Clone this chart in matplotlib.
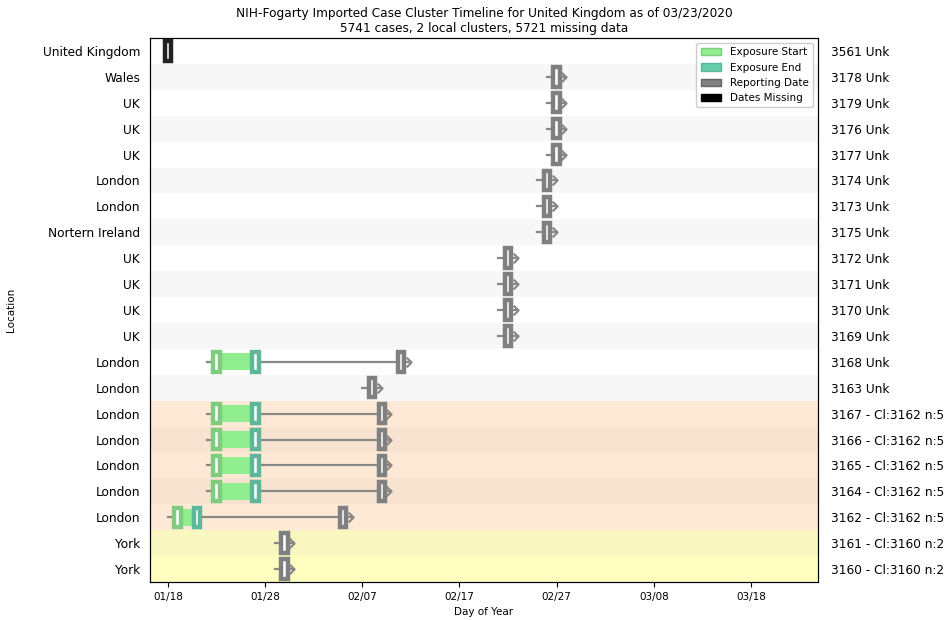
import matplotlib
matplotlib.use("Agg")
import matplotlib.pyplot as plt
import matplotlib.patches as mpatches
from matplotlib.path import Path
import numpy as np

# Данные (сверху вниз), дни — номер дня года 2020
locations = ["United Kingdom", "Wales", "UK", "UK", "UK", "London", "London",
             "Nortern Ireland", "UK", "UK", "UK", "UK", "London", "London",
             "London", "London", "London", "London", "London", "York", "York"]
case_labels = ["3561 Unk", "3178 Unk", "3179 Unk", "3176 Unk", "3177 Unk",
               "3174 Unk", "3173 Unk", "3175 Unk", "3172 Unk", "3171 Unk",
               "3170 Unk", "3169 Unk", "3168 Unk", "3163 Unk",
               "3167 - Cl:3162 n:5", "3166 - Cl:3162 n:5", "3165 - Cl:3162 n:5",
               "3164 - Cl:3162 n:5", "3162 - Cl:3162 n:5",
               "3161 - Cl:3160 n:2", "3160 - Cl:3160 n:2"]
nan = np.nan
exposure_start = [nan, nan, nan, nan, nan, nan, nan, nan, nan, nan, nan, nan,
                  23, nan, 23, 23, 23, 23, 19, nan, nan]
exposure_end = [nan, nan, nan, nan, nan, nan, nan, nan, nan, nan, nan, nan,
                27, nan, 27, 27, 27, 27, 21, nan, nan]
reporting = [18, 58, 58, 58, 58, 57, 57, 57, 53, 53, 53, 53,
             42, 39, 40, 40, 40, 40, 36, 30, 30]
dates_missing = [True] + [False] * 20
row_colors = ["#ffffff", "#f7f7f7"] * 7 + ["#fee9d6", "#f7e3cf", "#fee9d6",
                                          "#f7e3cf", "#fee9d6", "#f7f7bf", "#ffffbf"]
tick_days = [18, 28, 38, 48, 58, 68, 78]
tick_labels = ["01/18", "01/28", "02/07", "02/17", "02/27", "03/08", "03/18"]

# Цвета
c_start_face, c_start_edge = "#90ee90", "#7fcc7f"
c_end_face, c_end_edge = "#66cdaa", "#5fb79a"
c_rep = "#808080"
c_line = "#888888"

# открытая стрелка ">" с остриём в точке
chevron = Path([(-1, 1), (0, 0), (-1, -1)],
               [Path.MOVETO, Path.LINETO, Path.LINETO])

fig = plt.figure(figsize=(9.49, 6.2), dpi=100)
ax = fig.add_axes([0.158, 0.0613, 0.704, 0.8774])

n = len(locations)
box_w = 0.65
box_h = 0.75

for i in range(n):
    ax.axhspan(i - 0.5, i + 0.5, color=row_colors[i], zorder=0, lw=0)

    r = reporting[i]
    if dates_missing[i]:
        ax.barh(i, box_w, left=r - box_w / 2, height=box_h, facecolor="white",
                edgecolor="#222222", linewidth=3.2, zorder=4)
        continue

    s, e = exposure_start[i], exposure_end[i]
    left = s - 1 if not np.isnan(s) else r - 1
    ax.plot([left, r + 1], [i, i], color=c_line, lw=1.6, zorder=2)
    ax.plot([r + 1], [i], marker=chevron, ms=7, mfc="none", mec=c_line,
            mew=1.6, zorder=5)
    if not np.isnan(s):
        ax.barh(i, e - s, left=s, height=0.65, color=c_start_face, lw=0, zorder=3)
        ax.barh(i, box_w, left=s - box_w / 2, height=box_h, facecolor="white",
                edgecolor=c_start_edge, linewidth=3.2, zorder=4)
        ax.barh(i, box_w, left=e - box_w / 2, height=box_h, facecolor="white",
                edgecolor=c_end_edge, linewidth=3.2, zorder=4)
    ax.barh(i, box_w, left=r - box_w / 2, height=box_h, facecolor="white",
            edgecolor=c_rep, linewidth=3.2, zorder=4)

ax.set_ylim(n - 0.5, -0.5)
ax.set_xlim(16.15, 84.9)
ax.set_yticks(range(n))
ax.set_yticklabels(locations, fontsize=8.7)
ax.tick_params(axis="y", length=0, pad=7)
ax.set_xticks(tick_days)
ax.set_xticklabels(tick_labels, fontsize=7.5)
ax.set_xlabel("Day of Year", fontsize=7.5)
ax.set_ylabel("Location", fontsize=7.5)
ax.yaxis.set_label_coords(-0.2, 0.5)

ax2 = ax.twinx()
ax2.set_ylim(ax.get_ylim())
ax2.set_yticks(range(n))
ax2.set_yticklabels(case_labels, fontsize=8.7)
ax2.tick_params(axis="y", length=0, pad=9)

ax.set_title("NIH-Fogarty Imported Case Cluster Timeline for United Kingdom as of 03/23/2020\n"
             "5741 cases, 2 local clusters, 5721 missing data", fontsize=8.7, pad=4)

handles = [
    mpatches.Patch(facecolor=c_start_face, edgecolor=c_start_edge, label="Exposure Start"),
    mpatches.Patch(facecolor=c_end_face, edgecolor=c_end_edge, label="Exposure End"),
    mpatches.Patch(facecolor=c_rep, edgecolor="#666666", label="Reporting Date"),
    mpatches.Patch(facecolor="black", edgecolor="black", label="Dates Missing"),
]
ax2.legend(handles=handles, loc="upper right", fontsize=7.5, framealpha=1)

fig.savefig("out.png", dpi=100)
